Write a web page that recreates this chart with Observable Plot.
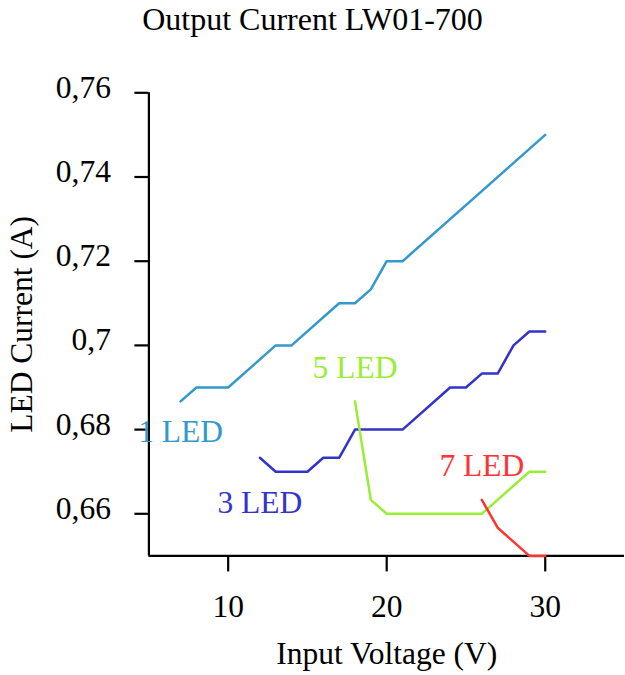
<!DOCTYPE html>
<html><head><meta charset="utf-8">
<script src="https://cdn.jsdelivr.net/npm/d3@7"></script>
<script src="https://cdn.jsdelivr.net/npm/@observablehq/plot@0.6"></script>
<style>
body{margin:0;background:#fff;font-family:"Liberation Serif","Times New Roman",serif;}
#title{width:625px;height:40px;line-height:38px;text-align:center;font-size:32px;color:#000;white-space:nowrap;}
#chart svg{display:block;}
</style></head><body>
<div id="title">Output Current LW01-700</div>
<div id="chart"></div>
<script>
const seriesNames = ["1 LED", "3 LED", "5 LED", "7 LED"];
const seriesColors = ["#3399cc", "#3333cc", "#99ee33", "#ff3333"];

const led1V = [7, 8, 10, 13, 14, 17, 18, 19, 20, 21, 30];
const led1I = [0.6867, 0.69, 0.69, 0.70, 0.70, 0.71, 0.71, 0.7133, 0.72, 0.72, 0.75];
const led3V = [12, 13, 15, 16, 17, 18, 21, 24, 25, 26, 27, 28, 29, 30];
const led3I = [0.6733, 0.67, 0.67, 0.6733, 0.6733, 0.68, 0.68, 0.69, 0.69, 0.6933, 0.6933, 0.70, 0.7033, 0.7033];
const led5V = [18, 19, 20, 26, 29, 30];
const led5I = [0.6867, 0.6633, 0.66, 0.66, 0.67, 0.67];
const led7V = [26, 27, 29, 30];
const led7I = [0.6633, 0.6567, 0.65, 0.65];

const labelV = [7, 12, 18, 26];
const labelI = [0.6794, 0.6627, 0.6946, 0.6714];

const xTicks = [10, 20, 30];
const xTickLabels = ["10", "20", "30"];
const yTicks = [0.66, 0.68, 0.70, 0.72, 0.74, 0.76];
const yTickLabels = ["0,66", "0,68", "0,7", "0,72", "0,74", "0,76"];

const xLabel = "Input Voltage (V)";
const yLabel = "LED Current (A)";

const seriesV = [led1V, led3V, led5V, led7V];
const seriesI = [led1I, led3I, led5I, led7I];
const rows = [];
seriesNames.forEach((s, k) => seriesV[k].forEach((v, j) => rows.push({series: s, v, i: seriesI[k][j]})));
const labels = seriesNames.map((s, k) => ({series: s, v: labelV[k], i: labelI[k]}));

const FONT = 31.5;
const chart = Plot.plot({
  width: 625,
  height: 635,
  marginLeft: 148.4,
  marginRight: 1,
  marginTop: 52.3,
  marginBottom: 119.6,
  style: {fontFamily: '"Liberation Serif","Times New Roman",serif', fontSize: FONT + "px", color: "black", background: "white", overflow: "visible"},
  x: {domain: [5, 35], axis: null, label: null},
  y: {domain: [0.65, 0.76], axis: null, label: null},
  color: {domain: seriesNames, range: seriesColors},
  marks: [
    Plot.ruleY([0.65], {stroke: "black", strokeWidth: 2.2}),
    Plot.ruleX([5], {y1: 0.65, y2: 0.76, stroke: "black", strokeWidth: 2.2}),
    Plot.axisX({ticks: xTicks, tickFormat: d => xTickLabels[xTicks.indexOf(d)], tickSize: 16, tickPadding: 23, strokeWidth: 2.2, fontSize: FONT, label: null}),
    Plot.axisY({ticks: yTicks, tickSize: 14, strokeWidth: 2.2, fill: "none", label: null}),
    Plot.axisY({ticks: yTicks, tickFormat: d => yTickLabels[yTicks.indexOf(d)], tickSize: 14, tickPadding: 24, stroke: "none", fontSize: FONT, dy: -5, label: null}),
    Plot.line(rows, {x: "v", y: "i", z: "series", stroke: "series", strokeWidth: 2.5}),
    Plot.text(labels, {x: "v", y: "i", text: "series", fill: "series", fontSize: FONT}),
    Plot.text([xLabel], {text: d => d, frameAnchor: "bottom", textAnchor: "middle", lineAnchor: "bottom", dy: 107.6, fontSize: FONT}),
    Plot.text([yLabel], {text: d => d, frameAnchor: "left", textAnchor: "middle", rotate: -90, lineAnchor: "bottom", dx: -116.4, fontSize: FONT})
  ]
});
document.getElementById("chart").appendChild(chart);
</script>
</body></html>
